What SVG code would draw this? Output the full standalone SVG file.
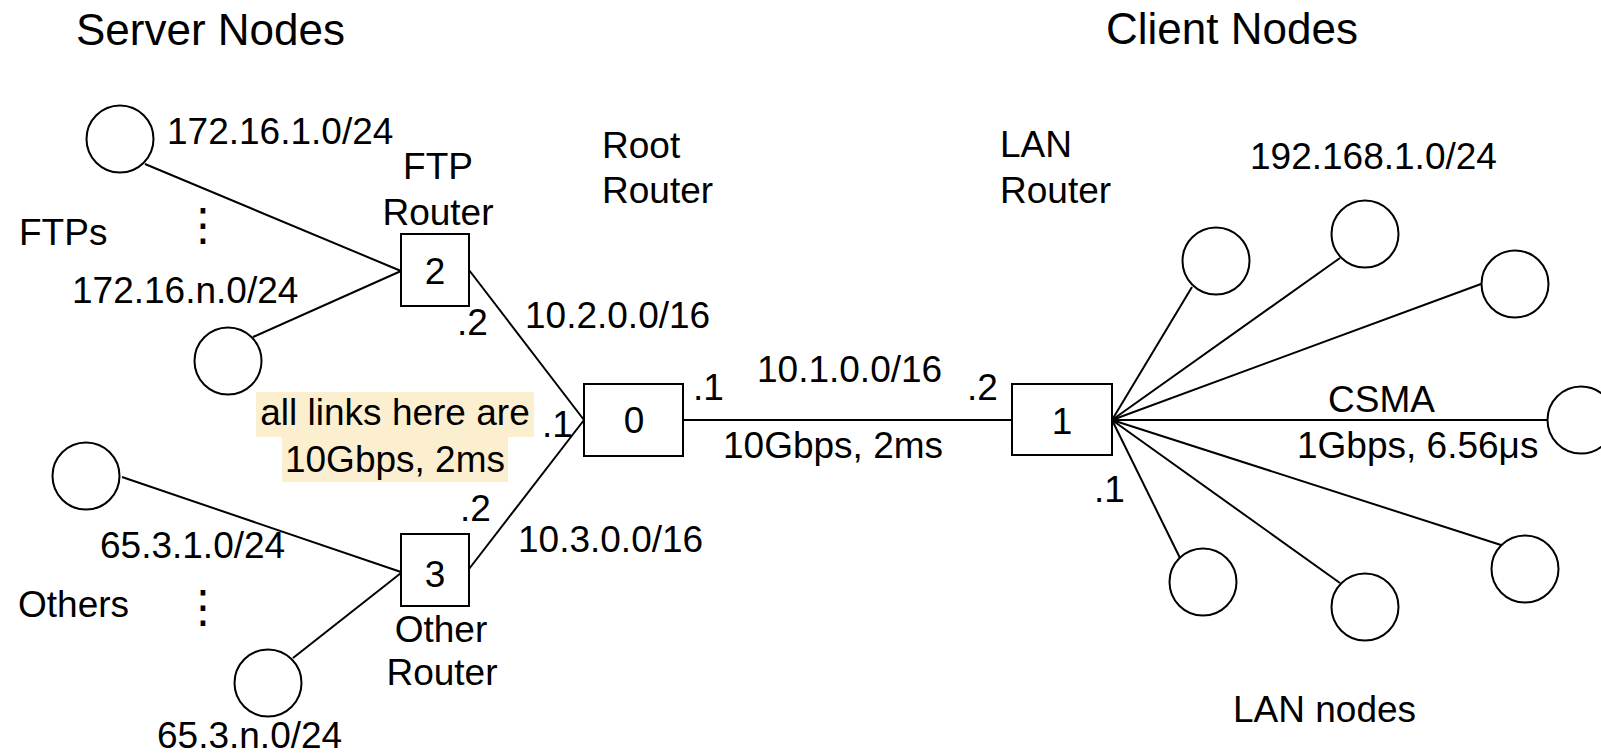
<svg xmlns="http://www.w3.org/2000/svg" width="1601" height="755" viewBox="0 0 1601 755">
<style>
text{font-family:"Liberation Sans",Arial,sans-serif;font-size:37px;fill:#000}
.title{font-size:44px}
.mid{text-anchor:middle}
.node{fill:#fff;stroke:#000;stroke-width:2}
.link{stroke:#000;stroke-width:2;fill:none}
.hl{fill:#fcefd0}
.dots{font-family:"DejaVu Sans",sans-serif;font-size:45px}
</style>
<rect width="1601" height="755" fill="#fff"/>
<text class="title" x="76" y="45">Server Nodes</text>
<text class="title" x="1106" y="44">Client Nodes</text>
<g id="note">
<rect class="hl" x="256" y="392" width="278" height="45"/>
<rect class="hl" x="282" y="437" width="226" height="45"/>
<text class="mid" x="395" y="425">all links here are</text>
<text class="mid" x="395" y="472">10Gbps, 2ms</text>
</g>
<g id="connectors">
<line class="link" x1="145" y1="164" x2="401" y2="271"/>
<line class="link" x1="253" y1="337" x2="401" y2="271"/>
<line class="link" x1="469" y1="270" x2="584" y2="420"/>
<line class="link" x1="469" y1="569" x2="584" y2="420"/>
<line class="link" x1="122" y1="477" x2="401" y2="572"/>
<line class="link" x1="293" y1="658" x2="401" y2="573"/>
<line class="link" x1="683" y1="420" x2="1012" y2="420"/>
<line class="link" x1="1112" y1="420" x2="1192" y2="287"/>
<line class="link" x1="1112" y1="420" x2="1340" y2="258"/>
<line class="link" x1="1112" y1="420" x2="1481" y2="284"/>
<line class="link" x1="1112" y1="420" x2="1547" y2="420"/>
<line class="link" x1="1112" y1="420" x2="1180" y2="558"/>
<line class="link" x1="1112" y1="420" x2="1340" y2="583"/>
<line class="link" x1="1112" y1="420" x2="1501" y2="545"/>
</g>
<g id="ftp-group">
<circle id="ftp1" class="node" cx="120" cy="139" r="33.5"/>
<circle id="ftpn" class="node" cx="228" cy="361" r="33.5"/>
<text x="167" y="144">172.16.1.0/24</text>
<text x="72" y="303">172.16.n.0/24</text>
<text x="19" y="245">FTPs</text>
<text class="dots mid" x="203" y="240">⋮</text>
</g>
<g id="others-group">
<circle id="oth1" class="node" cx="86" cy="476" r="33.5"/>
<circle id="othn" class="node" cx="268" cy="683" r="33.5"/>
<text x="100" y="558">65.3.1.0/24</text>
<text x="157" y="748">65.3.n.0/24</text>
<text x="18" y="617">Others</text>
<text class="dots mid" x="203" y="622">⋮</text>
</g>
<g id="router2">
<rect class="node" x="401" y="234" width="68" height="72"/>
<text class="mid" x="435" y="284">2</text>
<text class="mid" x="438" y="179">FTP</text>
<text class="mid" x="438" y="225">Router</text>
<text x="457" y="335">.2</text>
</g>
<g id="router3">
<rect class="node" x="401" y="534" width="68" height="72"/>
<text class="mid" x="435" y="587">3</text>
<text class="mid" x="441" y="642">Other</text>
<text class="mid" x="442" y="685">Router</text>
<text x="460" y="521">.2</text>
</g>
<g id="router0">
<rect class="node" x="584" y="384" width="99" height="72"/>
<text class="mid" x="634" y="433">0</text>
<text x="602" y="158">Root</text>
<text x="602" y="203">Router</text>
<text x="542" y="437">.1</text>
<text x="693" y="400">.1</text>
<text x="525" y="328">10.2.0.0/16</text>
<text x="518" y="552">10.3.0.0/16</text>
<text x="757" y="382">10.1.0.0/16</text>
<text x="723" y="458">10Gbps, 2ms</text>
</g>
<g id="router1">
<rect class="node" x="1012" y="384" width="100" height="71"/>
<text class="mid" x="1062" y="434">1</text>
<text x="1000" y="157">LAN</text>
<text x="1000" y="203">Router</text>
<text x="967" y="400">.2</text>
<text x="1094" y="502">.1</text>
</g>
<g id="lan-nodes">
<circle class="node" cx="1216" cy="261" r="33.5"/>
<circle class="node" cx="1365" cy="234" r="33.5"/>
<circle class="node" cx="1515" cy="284" r="33.5"/>
<circle class="node" cx="1581" cy="420" r="33.5"/>
<circle class="node" cx="1203" cy="582" r="33.5"/>
<circle class="node" cx="1365" cy="607" r="33.5"/>
<circle class="node" cx="1525" cy="569" r="33.5"/>
<text x="1250" y="169">192.168.1.0/24</text>
<text x="1328" y="412">CSMA</text>
<text x="1297" y="458">1Gbps, 6.56μs</text>
<text x="1233" y="722">LAN nodes</text>
</g>
</svg>
